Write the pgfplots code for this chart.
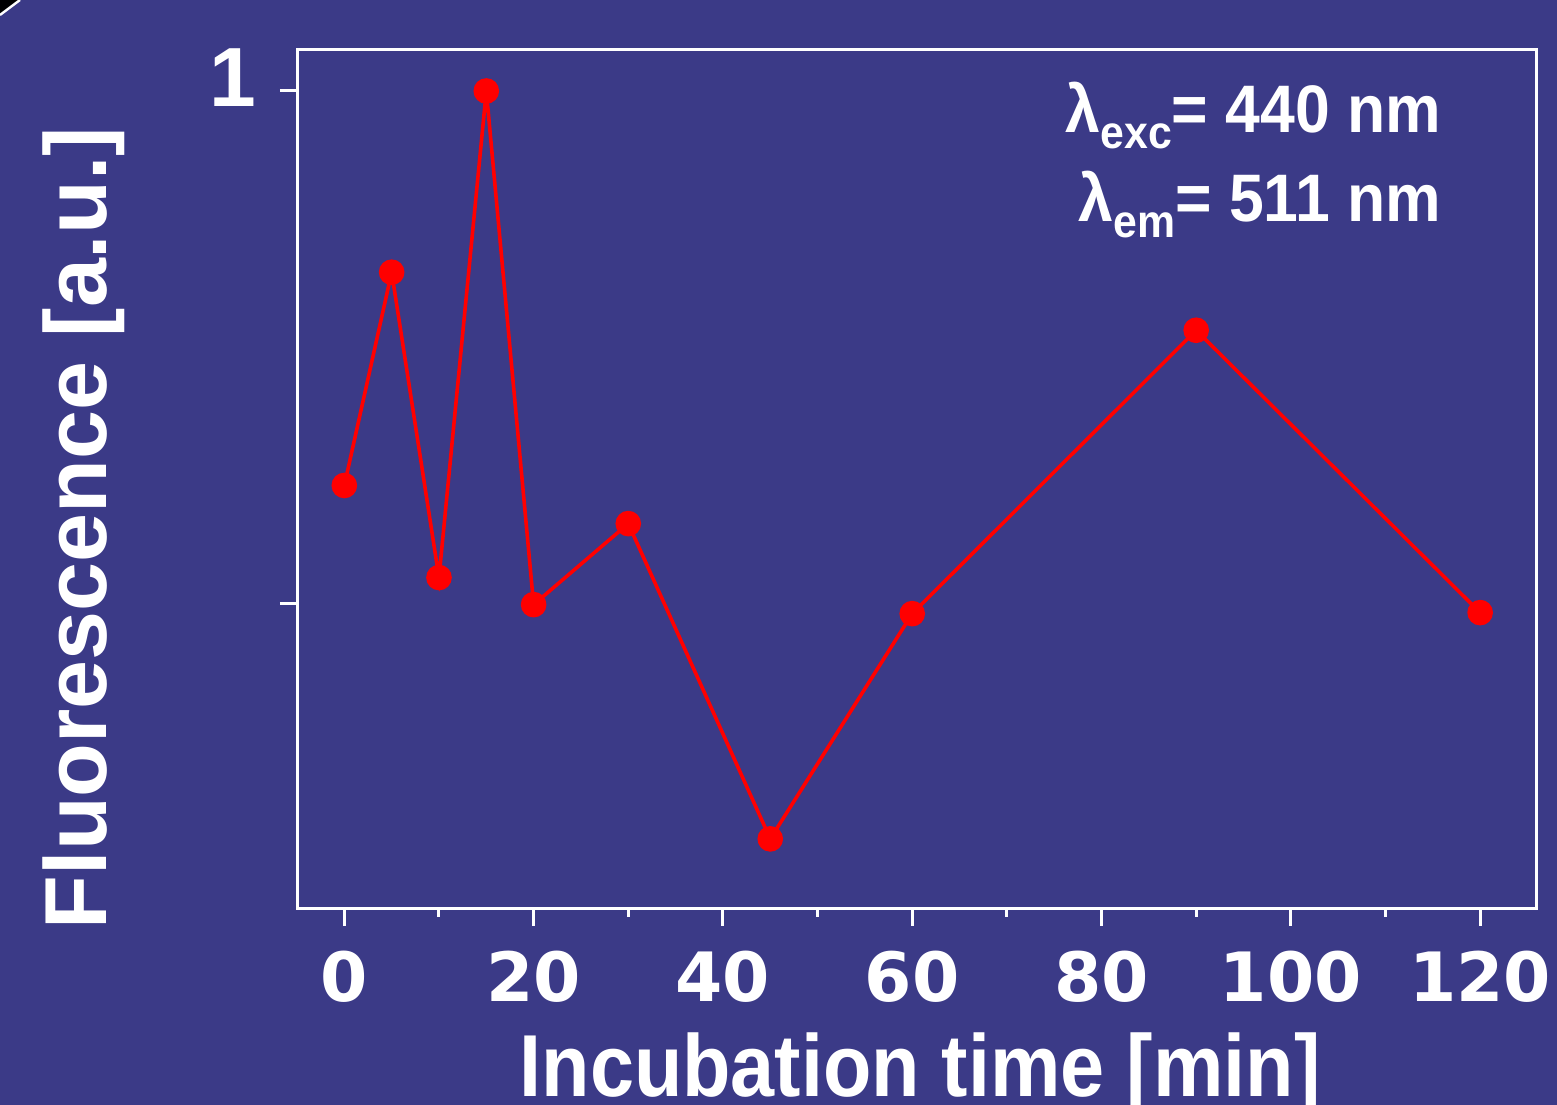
\documentclass[border=0pt]{standalone}
\usepackage{pgfplots}
\pgfplotsset{compat=1.18}
\usepackage{fontspec}
\setmainfont{Liberation Sans}
\newfontfamily\dejavu{DejaVu Sans}
\definecolor{bg}{HTML}{3B3A87}
\definecolor{dotred}{HTML}{FF0000}
\begin{document}
\begin{tikzpicture}
\useasboundingbox (0,0) rectangle (389.25pt,276.25pt);
\clip (0,0) rectangle (389.25pt,276.25pt);
\fill[bg] (0,0) rectangle (389.25pt,276.25pt);
\fill[black] (0,276.25pt) -- (5pt,276.25pt) -- (0,272.5pt) -- cycle;
\draw[white, line width=0.6pt] (5pt,276.25pt) -- (0,272.5pt);
\begin{axis}[
  at={(74.25pt,49pt)}, anchor=south west,
  scale only axis, width=309.75pt, height=214.75pt,
  xmin=-5, xmax=125.9, ymin=0.2021, ymax=1.04,
  axis line style={white, line width=0.75pt},
  tick style={white, line width=0.75pt},
  tick align=outside,
  xtick pos=bottom, ytick pos=left,
  major tick length=4.25pt, minor tick length=2pt,
  xtick={0,20,...,120}, minor xtick={10,30,...,110},
  ytick={0.5,1}, yticklabels={,1},
  /pgf/number format/assume math mode=true,
  xticklabel style={text=white, font=\dejavu\bfseries\fontsize{17}{17}\selectfont, anchor=base, yshift=-19pt},
  yticklabel style={text=white, font=\bfseries\fontsize{21}{21}\selectfont, yshift=3.4pt, xshift=-2.5pt},
  clip=false,
]
\addplot[dotred, line width=0.9pt, mark=*, mark size=2.75pt, mark options={fill=dotred, draw=dotred}] coordinates {
(0,0.6152) (5,0.8232) (10,0.5254) (15,1.0) (20,0.499) (30,0.578) (45,0.2705) (60,0.4902) (90,0.7666) (120,0.4912)
};
\end{axis}
\node[text=white, font=\bfseries\fontsize{22}{22}\selectfont, rotate=90, anchor=base] at (26.75pt,144.25pt) {Fluorescence [a.u.]};
\node[text=white, font=\bfseries\fontsize{22}{22}\selectfont, anchor=base] at (230pt,2pt) {\scalebox{0.9}[1]{Incubation time [min]}};
\node[text=white, font=\bfseries\fontsize{16.8}{17}\selectfont, anchor=base east, inner sep=0pt] at (360.5pt,243pt) {\scalebox{0.93}[1]{λ\raisebox{-4pt}{\fontsize{11.5}{11.5}\selectfont exc}= 440 nm}};
\node[text=white, font=\bfseries\fontsize{16.8}{17}\selectfont, anchor=base east, inner sep=0pt] at (360.5pt,220.75pt) {\scalebox{0.93}[1]{λ\raisebox{-4pt}{\fontsize{11.5}{11.5}\selectfont em}= 511 nm}};
\end{tikzpicture}
\end{document}
